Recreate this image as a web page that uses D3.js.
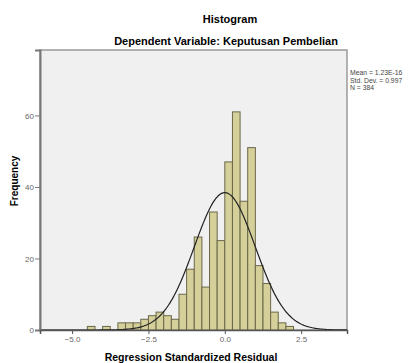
<!DOCTYPE html>
<html>
<head>
<meta charset="utf-8">
<script src="https://cdn.jsdelivr.net/npm/d3@7"></script>
<style>
  body { margin: 0; background: #fff; }
  text { font-family: 'Liberation Sans', Arial, sans-serif; }
</style>
</head>
<body>
<svg id="chart" width="414" height="363"></svg>
<script>
// histogram bins (lower edge) and their counts
const binStarts = [-4.5, -4.25, -4.0, -3.75, -3.5, -3.25, -3.0, -2.75, -2.5, -2.25, -2.0, -1.75,
  -1.5, -1.25, -1.0, -0.75, -0.5, -0.25, 0.0, 0.25, 0.5, 0.75, 1.0, 1.25, 1.5, 1.75, 2.0];
const counts = [1, 0, 1, 0, 2, 2, 2, 3, 4, 5, 4, 3,
  10, 17, 26, 12, 33, 25, 47, 61, 36, 51, 18, 13, 5, 2, 1];
const binWidth = 0.25;
const xTicks = [-5.0, -2.5, 0.0, 2.5];
const yTicks = [0, 20, 40, 60];
const mean = 1.23e-16;
const stdDev = 0.997;
const n = 384;
const statLines = ['Mean = 1.23E-16', 'Std. Dev. = 0.997', 'N = 384'];

const svg = d3.select('#chart');

const plotLeft = 40;
const plotRight = 347;
const plotTop = 50;
const plotBottom = 330;

const x = d3.scaleLinear().domain([-6.05, 4.0]).range([plotLeft, plotRight]);
const y = d3.scaleLinear().domain([0, 78.3]).range([plotBottom, plotTop]);

// titles
svg.append('text')
  .attr('x', 230).attr('y', 23)
  .attr('text-anchor', 'middle')
  .style('font-size', '11px').style('font-weight', 'bold')
  .text('Histogram');
svg.append('text')
  .attr('x', 226).attr('y', 45)
  .attr('text-anchor', 'middle')
  .style('font-size', '11px').style('font-weight', 'bold')
  .text('Dependent Variable: Keputusan Pembelian');

// plot background
svg.append('rect')
  .attr('x', plotLeft).attr('y', plotTop)
  .attr('width', plotRight - plotLeft).attr('height', plotBottom - plotTop)
  .attr('fill', '#f0f0f0')
  .attr('stroke', '#9a9a9a')
  .attr('stroke-width', 1.5);

const bins = binStarts.map((b, i) => ({ x0: b, x1: b + binWidth, count: counts[i] }))
  .filter((d) => d.count > 0);

svg.append('g')
  .selectAll('rect')
  .data(bins)
  .enter()
  .append('rect')
  .attr('x', (d) => x(d.x0))
  .attr('y', (d) => y(d.count))
  .attr('width', (d) => x(d.x1) - x(d.x0))
  .attr('height', (d) => y(0) - y(d.count))
  .attr('fill', '#d5d09a')
  .attr('stroke', '#6a674a')
  .attr('stroke-width', 1);

// normal curve
const pdf = (v) => Math.exp(-0.5 * ((v - mean) / stdDev) ** 2) / (stdDev * Math.sqrt(2 * Math.PI));
const curvePts = d3.range(0, 301).map((i) => {
  const v = -6.05 + (i / 300) * 10.05;
  return [v, n * binWidth * pdf(v)];
});
svg.append('path')
  .datum(curvePts)
  .attr('fill', 'none')
  .attr('stroke', '#222')
  .attr('stroke-width', 1.2)
  .attr('d', d3.line().x((d) => x(d[0])).y((d) => y(d[1])));

// axes
const yAxis = d3.axisLeft(y).tickValues(yTicks).tickSize(5).tickFormat(d3.format('d'));
const gy = svg.append('g')
  .attr('transform', `translate(${plotLeft},0)`)
  .call(yAxis);
gy.select('.domain').attr('stroke', '#777').attr('stroke-width', 2);
gy.selectAll('.tick line').attr('stroke', '#777');
gy.selectAll('.tick text').attr('fill', '#666').style('font-size', '8px').attr('x', -6);

const xAxis = d3.axisBottom(x).tickValues(xTicks).tickSize(4).tickFormat(d3.format('.1f'));
const gx = svg.append('g')
  .attr('transform', `translate(0,${plotBottom})`)
  .call(xAxis);
gx.select('.domain').attr('stroke', '#555').attr('stroke-width', 1.5);
gx.selectAll('.tick line').attr('stroke', '#555');
gx.selectAll('.tick text').attr('fill', '#666').style('font-size', '8px').attr('y', 6);

// axis titles
svg.append('text')
  .attr('transform', 'rotate(-90)')
  .attr('x', -181).attr('y', 18)
  .attr('text-anchor', 'middle')
  .style('font-size', '10px').style('font-weight', 'bold')
  .text('Frequency');
svg.append('text')
  .attr('x', 191).attr('y', 361)
  .attr('text-anchor', 'middle')
  .style('font-size', '10.5px').style('font-weight', 'bold')
  .text('Regression Standardized Residual');

// stats box text
svg.append('g')
  .selectAll('text')
  .data(statLines)
  .enter()
  .append('text')
  .attr('x', 350)
  .attr('y', (d, i) => 75 + i * 7.6)
  .style('font-size', '6.8px')
  .attr('fill', '#444')
  .text((d) => d);
</script>
</body>
</html>
